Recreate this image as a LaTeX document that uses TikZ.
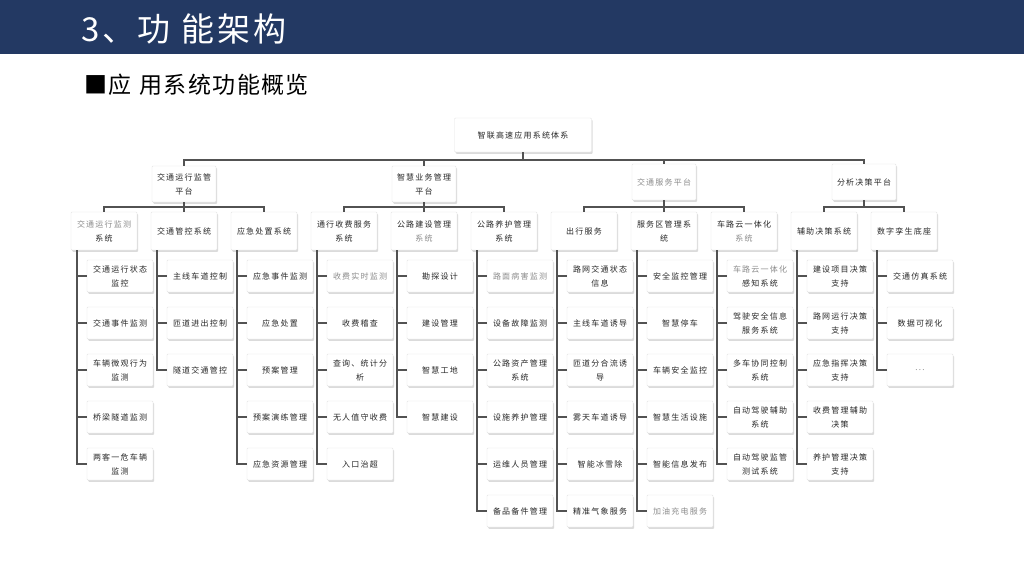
\documentclass[tikz,border=0pt]{standalone}
\usepackage{fontspec}
\usetikzlibrary{shadows}
\newfontfamily\cjk[LetterSpace=15]{Noto Sans CJK SC}
\newfontfamily\cjktitle[LetterSpace=8]{Noto Sans CJK SC}
\newfontfamily\cjksub[LetterSpace=6]{Noto Sans CJK SC}
\definecolor{navy}{RGB}{35,57,99}
\definecolor{conncol}{RGB}{82,82,82}
\definecolor{txt}{RGB}{40,40,40}
\definecolor{fade}{RGB}{140,140,140}
\begin{document}
\begin{tikzpicture}[x=1pt,y=-1pt,
 box/.style={fill=white, draw=black!10, line width=0.4pt, rounded corners=1pt,
   drop shadow={shadow xshift=1.2pt, shadow yshift=-1.8pt, opacity=0.28},
   align=center, inner sep=1pt, text=txt, font=\cjk\fontsize{8}{14}\selectfont},
 rootbox/.style={box, minimum width=137pt, minimum height=34pt},
 lonebox/.style={box, minimum width=64pt, minimum height=36pt},
 ltwobox/.style={box, minimum width=66pt, minimum height=38pt},
 leaf/.style={box, minimum width=66pt, minimum height=32pt},
 conn/.style={draw=conncol, line width=1.9pt},
 faded/.style={text=fade}]
\useasboundingbox (0,0) rectangle (1024,576);
\fill[white] (0,0) rectangle (1024,576);
\fill[navy] (0,0) rectangle (1024,54);
\node[anchor=west, text=white, font=\cjktitle\fontsize{33}{36}\selectfont, inner sep=0pt] (title) at (81,29) {3、功\hspace{11pt}能架构};
\node[anchor=west, text=black, font=\cjksub\fontsize{23}{26}\selectfont, inner sep=0pt] (subtitle) at (84,85) {■应\hspace{8pt}用系统功能概览};

% root
\node[rootbox] (root) at (523,135) {智联高速应用系统体系};
% level 1
\node[lonebox] (pA) at (184,184) {交通运行监管\\平台};
\node[lonebox] (pB) at (424,184) {智慧业务管理\\平台};
\node[lonebox, faded] (pC) at (664,182) {交通服务平台};
\node[lonebox] (pD) at (864,182) {分析决策平台};
\coordinate (bus0) at (523,160);
\draw[conn] (root.south) -- (bus0);
\draw[conn] (pA.north) |- (bus0) -| (pD.north);
\draw[conn] (pB.north) -- (pB.north |- bus0);
\draw[conn] (pC.north) -- (pC.north |- bus0);

% level 2
\node[ltwobox] (s1) at (104,231) {{\color{fade}交通运行监测}\\系统};
\node[ltwobox] (s2) at (184,231) {交通管控系统};
\node[ltwobox] (s3) at (264,231) {应急处置系统};
\node[ltwobox] (s4) at (344,231) {通行收费服务\\系统};
\node[ltwobox] (s5) at (424,231) {公路建设管理\\{\color{fade}系统}};
\node[ltwobox] (s6) at (504,231) {公路养护管理\\系统};
\node[ltwobox] (s7) at (584,231) {出行服务};
\node[ltwobox] (s8) at (664,231) {服务区管理系\\统};
\node[ltwobox] (s9) at (744,231) {车路云一体化\\{\color{fade}系统}};
\node[ltwobox] (s10) at (824,231) {辅助决策系统};
\node[ltwobox] (s11) at (904,231) {数字孪生底座};

\coordinate (busA) at (184,207);
\coordinate (busB) at (424,207);
\coordinate (busC) at (664,207);
\coordinate (busD) at (864,207);
\draw[conn] (pA.south) -- (pA.south |- busA);
\draw[conn] (s1.north) |- (busA) -| (s3.north);
\draw[conn] (s2.north) -- (s2.north |- busA);
\draw[conn] (pB.south) -- (pB.south |- busB);
\draw[conn] (s4.north) |- (busB) -| (s6.north);
\draw[conn] (s5.north) -- (s5.north |- busB);
\draw[conn] (pC.south) -- (pC.south |- busC);
\draw[conn] (s7.north) |- (busC) -| (s9.north);
\draw[conn] (s8.north) -- (s8.north |- busC);
\draw[conn] (pD.south) -- (pD.south |- busD);
\draw[conn] (s10.north) |- (busD) -| (s11.north);

% leaves column 1
\node[leaf] (l1a) at (120,276) {交通运行状态\\监控};
\node[leaf] (l1b) at (120,323) {交通事件监测};
\node[leaf] (l1c) at (120,370) {车辆微观行为\\监测};
\node[leaf] (l1d) at (120,417) {桥梁隧道监测};
\node[leaf] (l1e) at (120,464) {两客一危车辆\\监测};
% column 2
\node[leaf] (l2a) at (200,276) {主线车道控制};
\node[leaf] (l2b) at (200,323) {匝道进出控制};
\node[leaf] (l2c) at (200,370) {隧道交通管控};
% column 3
\node[leaf] (l3a) at (280,276) {应急事件监测};
\node[leaf] (l3b) at (280,323) {应急处置};
\node[leaf] (l3c) at (280,370) {预案管理};
\node[leaf] (l3d) at (280,417) {预案演练管理};
\node[leaf] (l3e) at (280,464) {应急资源管理};
% column 4
\node[leaf, faded] (l4a) at (360,276) {收费实时监测};
\node[leaf] (l4b) at (360,323) {收费稽查};
\node[leaf] (l4c) at (360,370) {查询、统计分\\析};
\node[leaf] (l4d) at (360,417) {无人值守收费};
\node[leaf] (l4e) at (360,464) {入口治超};
% column 5
\node[leaf] (l5a) at (440,276) {勘探设计};
\node[leaf] (l5b) at (440,323) {建设管理};
\node[leaf] (l5c) at (440,370) {智慧工地};
\node[leaf] (l5d) at (440,417) {智慧建设};
% column 6
\node[leaf, faded] (l6a) at (520,276) {路面病害监测};
\node[leaf] (l6b) at (520,323) {设备故障监测};
\node[leaf] (l6c) at (520,370) {公路资产管理\\系统};
\node[leaf] (l6d) at (520,417) {设施养护管理};
\node[leaf] (l6e) at (520,464) {运维人员管理};
\node[leaf] (l6f) at (520,511) {备品备件管理};
% column 7
\node[leaf] (l7a) at (600,276) {路网交通状态\\信息};
\node[leaf] (l7b) at (600,323) {主线车道诱导};
\node[leaf] (l7c) at (600,370) {匝道分合流诱\\导};
\node[leaf] (l7d) at (600,417) {雾天车道诱导};
\node[leaf] (l7e) at (600,464) {智能冰雪除};
\node[leaf] (l7f) at (600,511) {精准气象服务};
% column 8
\node[leaf] (l8a) at (680,276) {安全监控管理};
\node[leaf] (l8b) at (680,323) {智慧停车};
\node[leaf] (l8c) at (680,370) {车辆安全监控};
\node[leaf] (l8d) at (680,417) {智慧生活设施};
\node[leaf] (l8e) at (680,464) {智能信息发布};
\node[leaf, faded] (l8f) at (680,511) {加油充电服务};
% column 9
\node[leaf] (l9a) at (760,276) {{\color{fade}车路云一体化}\\感知系统};
\node[leaf] (l9b) at (760,323) {驾驶安全信息\\服务系统};
\node[leaf] (l9c) at (760,370) {多车协同控制\\系统};
\node[leaf] (l9d) at (760,417) {自动驾驶辅助\\系统};
\node[leaf] (l9e) at (760,464) {自动驾驶监管\\测试系统};
% column 10
\node[leaf] (l10a) at (840,276) {建设项目决策\\支持};
\node[leaf] (l10b) at (840,323) {路网运行决策\\支持};
\node[leaf] (l10c) at (840,370) {应急指挥决策\\支持};
\node[leaf] (l10d) at (840,417) {收费管理辅助\\决策};
\node[leaf] (l10e) at (840,464) {养护管理决策\\支持};
% column 11
\node[leaf] (l11a) at (920,276) {交通仿真系统};
\node[leaf] (l11b) at (920,323) {数据可视化};
\node[leaf, faded] (l11c) at (920,370) {...};

% trunks
\coordinate (t1) at (77,250);
\coordinate (t2) at (157,250);
\coordinate (t3) at (237,250);
\coordinate (t4) at (317,250);
\coordinate (t5) at (397,250);
\coordinate (t6) at (477,250);
\coordinate (t7) at (557,250);
\coordinate (t8) at (637,250);
\coordinate (t9) at (717,250);
\coordinate (t10) at (797,250);
\coordinate (t11) at (877,250);
\draw[conn] (s1.south -| t1) |- (l1e.west);
\draw[conn] (s2.south -| t2) |- (l2c.west);
\draw[conn] (s3.south -| t3) |- (l3e.west);
\draw[conn] (s4.south -| t4) |- (l4e.west);
\draw[conn] (s5.south -| t5) |- (l5d.west);
\draw[conn] (s6.south -| t6) |- (l6f.west);
\draw[conn] (s7.south -| t7) |- (l7f.west);
\draw[conn] (s8.south -| t8) |- (l8f.west);
\draw[conn] (s9.south -| t9) |- (l9e.west);
\draw[conn] (s10.south -| t10) |- (l10e.west);
\draw[conn] (s11.south -| t11) |- (l11c.west);
\foreach \n in {a,b,c,d} \draw[conn] (l1\n.west) -- (l1\n.west -| t1);
\foreach \n in {a,b} \draw[conn] (l2\n.west) -- (l2\n.west -| t2);
\foreach \n in {a,b,c,d} \draw[conn] (l3\n.west) -- (l3\n.west -| t3);
\foreach \n in {a,b,c,d} \draw[conn] (l4\n.west) -- (l4\n.west -| t4);
\foreach \n in {a,b,c} \draw[conn] (l5\n.west) -- (l5\n.west -| t5);
\foreach \n in {a,b,c,d,e} \draw[conn] (l6\n.west) -- (l6\n.west -| t6);
\foreach \n in {a,b,c,d,e} \draw[conn] (l7\n.west) -- (l7\n.west -| t7);
\foreach \n in {a,b,c,d,e} \draw[conn] (l8\n.west) -- (l8\n.west -| t8);
\foreach \n in {a,b,c,d} \draw[conn] (l9\n.west) -- (l9\n.west -| t9);
\foreach \n in {a,b,c,d} \draw[conn] (l10\n.west) -- (l10\n.west -| t10);
\foreach \n in {a,b} \draw[conn] (l11\n.west) -- (l11\n.west -| t11);
\end{tikzpicture}
\end{document}
